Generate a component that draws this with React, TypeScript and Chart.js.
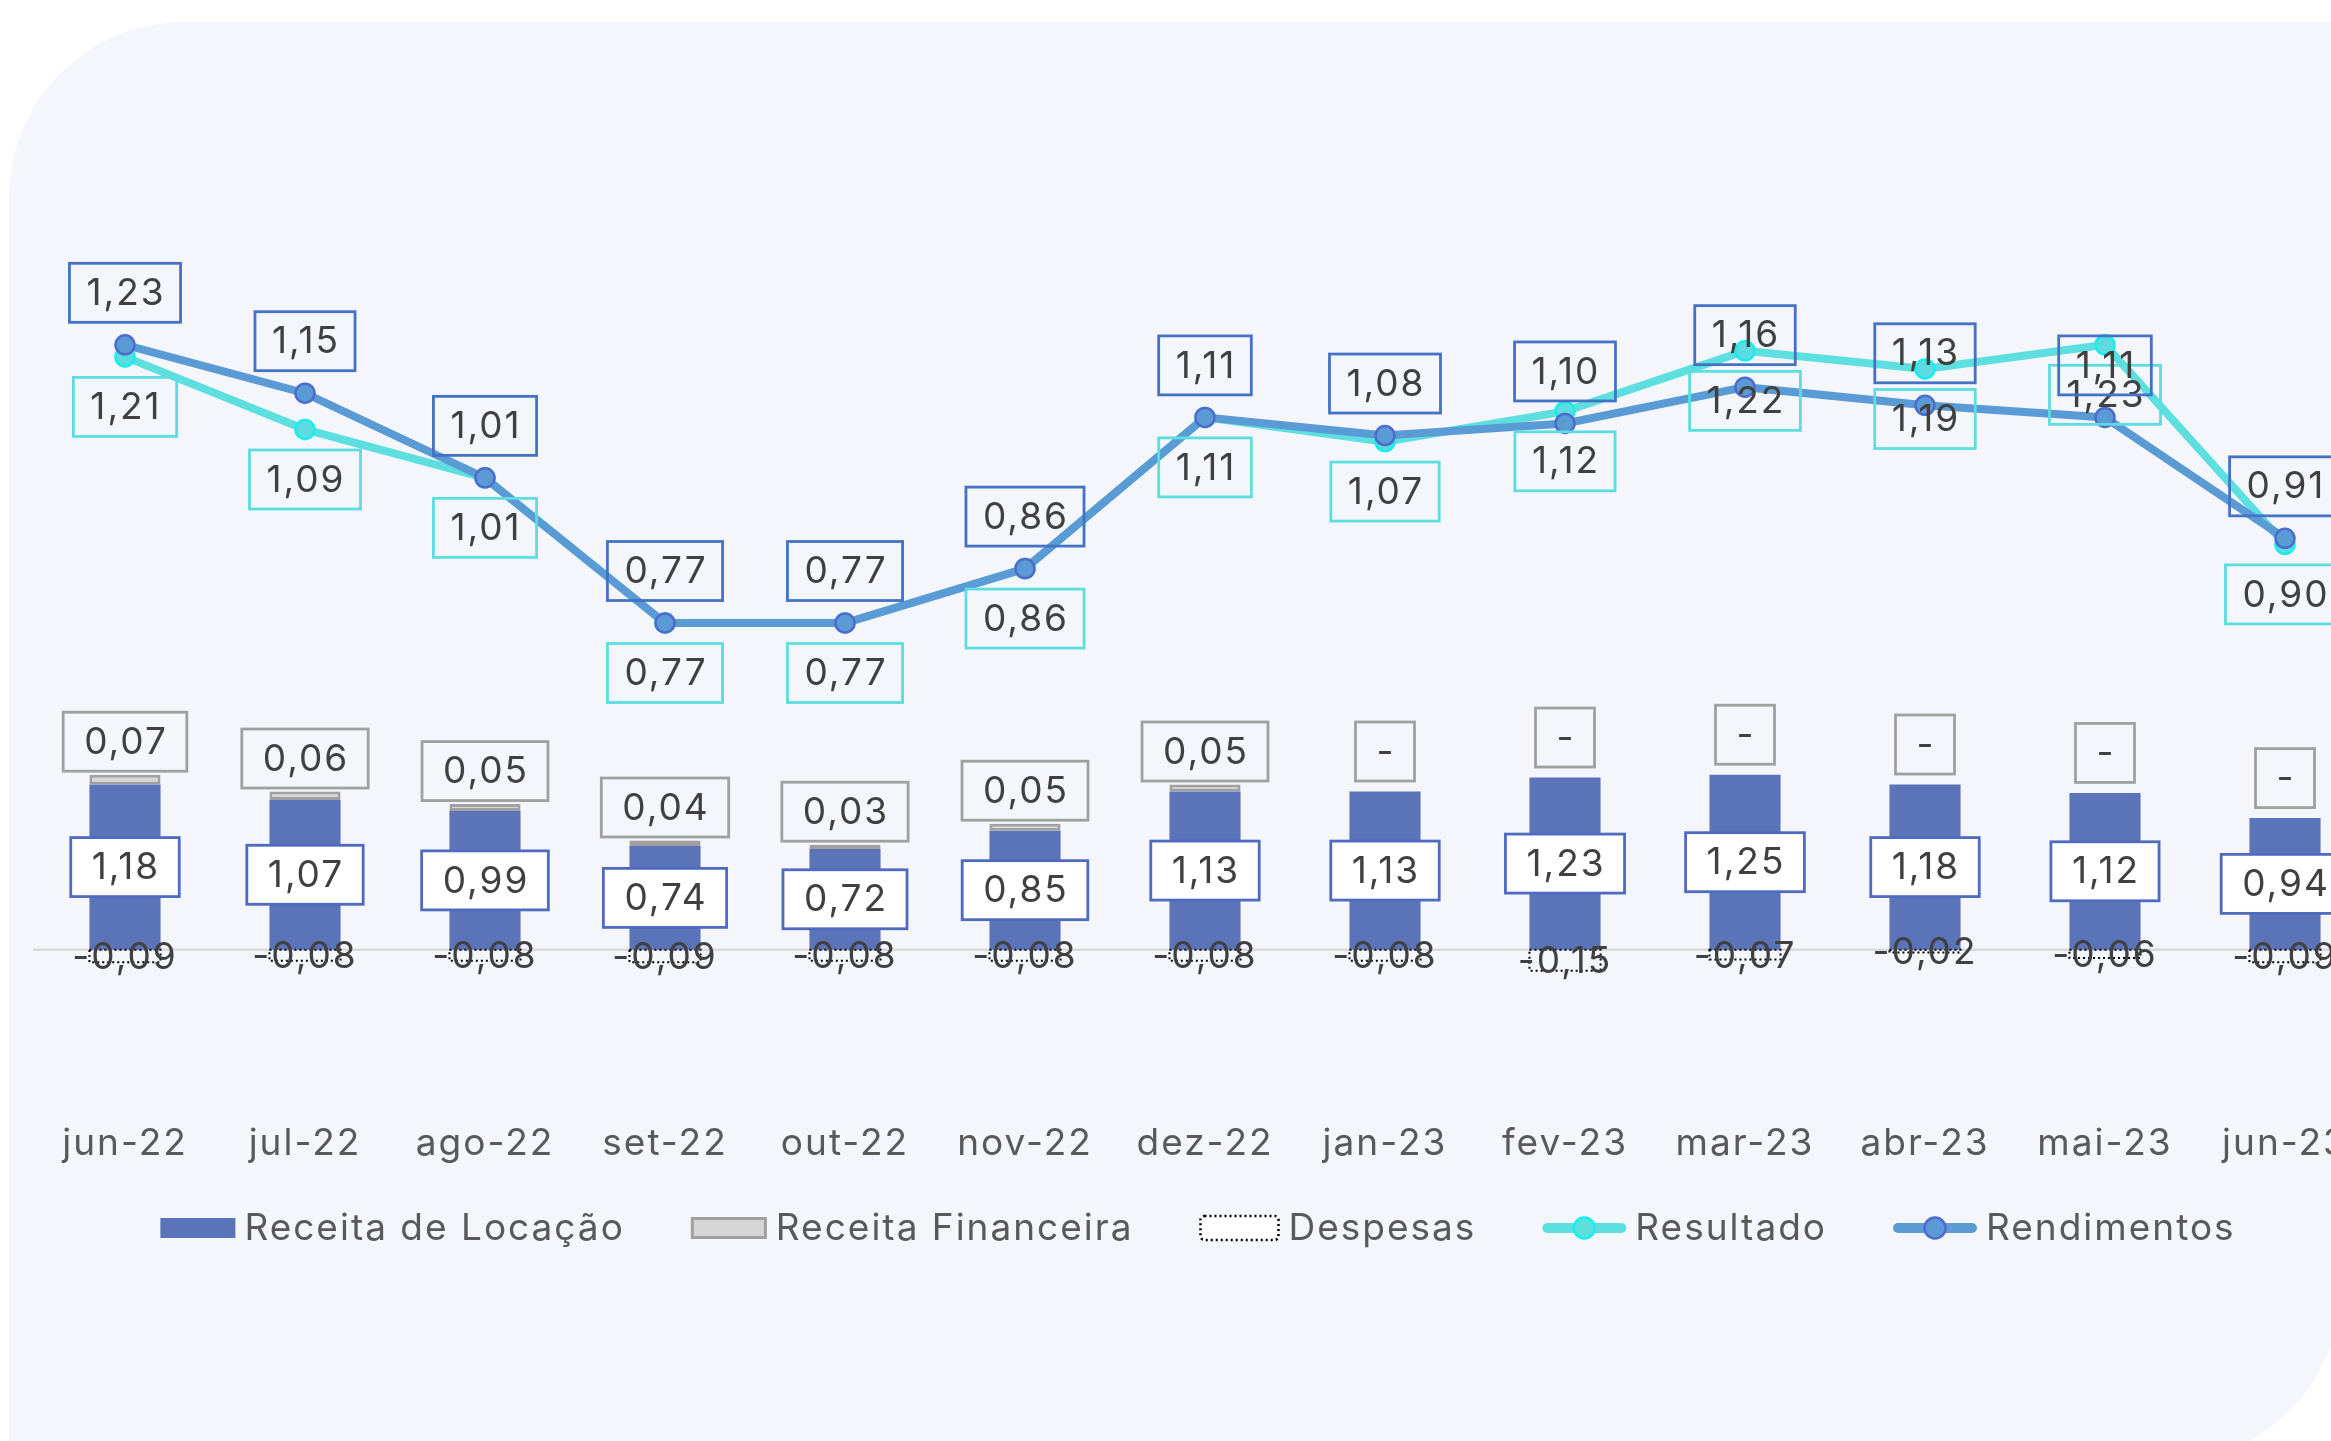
import React, { useEffect, useRef } from "react";
import { Chart, registerables } from "chart.js";

Chart.register(...registerables);

const categories = ["jun-22", "jul-22", "ago-22", "set-22", "out-22", "nov-22", "dez-22", "jan-23", "fev-23", "mar-23", "abr-23", "mai-23", "jun-23"];
const receitaLocacao = [1.18, 1.07, 0.99, 0.74, 0.72, 0.85, 1.13, 1.13, 1.23, 1.25, 1.18, 1.12, 0.94];
const receitaFinanceira = [0.07, 0.06, 0.05, 0.04, 0.03, 0.05, 0.05, 0, 0, 0, 0, 0, 0];
const despesas = [-0.09, -0.08, -0.08, -0.09, -0.08, -0.08, -0.08, -0.08, -0.15, -0.07, -0.02, -0.06, -0.09];
const resultado = [1.21, 1.09, 1.01, 0.77, 0.77, 0.86, 1.11, 1.07, 1.12, 1.22, 1.19, 1.23, 0.9];
const rendimentos = [1.23, 1.15, 1.01, 0.77, 0.77, 0.86, 1.11, 1.08, 1.1, 1.16, 1.13, 1.11, 0.91];
const seriesNames = ["Receita de Locação", "Receita Financeira", "Despesas", "Resultado", "Rendimentos"];

const FONT = 'Inter, "Noto Sans", sans-serif';
const FS = 37;
const LS = "2px";

const C_LOC = "#5b73b9";
const C_FIN_FILL = "#d6d6d6";
const C_FIN_BORDER = "#a0a0a0";
const C_RES = "#5ddfdf";
const C_RES_PT = "#16eeee";
const C_REN = "#5b9bd5";
const C_REN_PT = "#4d6ccc";

const fmt = (v: number) => (v === 0 ? "-" : v.toFixed(2).replace(".", ","));

function drawBox(ctx: CanvasRenderingContext2D, text: string, cx: number, cy: number, padX: number, h: number, stroke: string, fill?: string) {
  ctx.font = `${FS}px ${FONT}`;
  (ctx as any).letterSpacing = LS;
  const w = ctx.measureText(text).width + padX * 2;
  if (fill) {
    ctx.fillStyle = fill;
    ctx.fillRect(cx - w / 2, cy - h / 2, w, h);
  }
  ctx.lineWidth = 2.8;
  ctx.strokeStyle = stroke;
  ctx.strokeRect(cx - w / 2, cy - h / 2, w, h);
  ctx.fillStyle = "#404040";
  ctx.textAlign = "center";
  ctx.textBaseline = "middle";
  ctx.fillText(text, cx + 1, cy + 1);
}

const labelPlugin = {
  id: "customLabels",
  beforeDraw(chart: any) {
    (chart.ctx as any).letterSpacing = LS;
  },
  beforeDatasetsDraw(chart: any) {
    const ctx = chart.ctx as CanvasRenderingContext2D;
    const y0 = chart.scales.y.getPixelForValue(0);
    ctx.save();
    ctx.strokeStyle = "#d9d9d9";
    ctx.lineWidth = 2.5;
    ctx.beginPath();
    ctx.moveTo(chart.chartArea.left - 2, y0);
    ctx.lineTo(chart.chartArea.right, y0);
    ctx.stroke();
    ctx.restore();
  },
  afterDatasetsDraw(chart: any) {
    const ctx = chart.ctx as CanvasRenderingContext2D;
    ctx.save();
    const mDesp = chart.getDatasetMeta(2);
    mDesp.data.forEach((el: any) => {
      const w = el.width;
      ctx.setLineDash([2, 3]);
      ctx.lineWidth = 2;
      ctx.strokeStyle = "#000";
      ctx.strokeRect(el.x - w / 2, Math.min(el.y, el.base), w, Math.abs(el.y - el.base));
    });
    ctx.setLineDash([]);
    chart.getDatasetMeta(0).data.forEach((el: any, i: number) => {
      drawBox(ctx, fmt(receitaLocacao[i]), el.x, (el.y + el.base) / 2, 20, 59, "#4f6bc0", "#ffffff");
    });
    chart.getDatasetMeta(1).data.forEach((el: any, i: number) => {
      const v = receitaFinanceira[i];
      const off = v === 0 ? 10 : 3;
      drawBox(ctx, fmt(v), el.x, el.y - off - 30, 20, 59, C_FIN_BORDER);
    });
    mDesp.data.forEach((el: any, i: number) => {
      ctx.font = `${FS}px ${FONT}`;
      (ctx as any).letterSpacing = LS;
      ctx.fillStyle = "#404040";
      ctx.textAlign = "center";
      ctx.textBaseline = "middle";
      ctx.fillText(fmt(despesas[i]), el.x, (el.y + el.base) / 2 + 2);
    });
    chart.getDatasetMeta(3).data.forEach((el: any, i: number) => {
      drawBox(ctx, fmt(resultado[i]), el.x, el.y + 50, 16, 59, "#5cdde0");
    });
    chart.getDatasetMeta(4).data.forEach((el: any, i: number) => {
      drawBox(ctx, fmt(rendimentos[i]), el.x, el.y - 52, 16, 59, "#4472c4");
    });
    ctx.restore();
  },
  afterDraw(chart: any) {
    const ctx = chart.ctx as CanvasRenderingContext2D;
    ctx.save();
    ctx.font = `${FS}px ${FONT}`;
    (ctx as any).letterSpacing = LS;
    const symW = [75, 76, 80, 84, 84];
    const gapText = 9;
    const gapItem = 66;
    const widths = seriesNames.map((n, i) => symW[i] + gapText + ctx.measureText(n).width);
    const total = widths.reduce((a, b) => a + b, 0) + gapItem * (seriesNames.length - 1);
    let x = 1198 - total / 2;
    const cy = 1228;
    seriesNames.forEach((name, i) => {
      const sw = symW[i];
      if (i === 0) {
        ctx.fillStyle = C_LOC;
        ctx.fillRect(x, cy - 10, sw, 20);
      } else if (i === 1) {
        ctx.fillStyle = C_FIN_FILL;
        ctx.fillRect(x, cy - 11, sw, 22);
        ctx.strokeStyle = C_FIN_BORDER;
        ctx.lineWidth = 3;
        ctx.strokeRect(x + 1.5, cy - 9.5, sw - 3, 19);
      } else if (i === 2) {
        ctx.fillStyle = "#ffffff";
        ctx.beginPath();
        (ctx as any).roundRect(x + 1, cy - 12, sw - 2, 24, 4);
        ctx.fill();
        ctx.setLineDash([2, 3]);
        ctx.lineWidth = 2.5;
        ctx.strokeStyle = "#000";
        ctx.stroke();
        ctx.setLineDash([]);
      } else {
        const lc = i === 3 ? C_RES : C_REN;
        const pb = i === 3 ? C_RES_PT : C_REN_PT;
        ctx.strokeStyle = lc;
        ctx.lineWidth = 10;
        ctx.lineCap = "round";
        ctx.beginPath();
        ctx.moveTo(x + 5, cy);
        ctx.lineTo(x + sw - 5, cy);
        ctx.stroke();
        ctx.beginPath();
        ctx.arc(x + sw / 2, cy, 10.5, 0, Math.PI * 2);
        ctx.fillStyle = lc;
        ctx.fill();
        ctx.lineWidth = 2.5;
        ctx.strokeStyle = pb;
        ctx.stroke();
      }
      ctx.fillStyle = "#595959";
      ctx.textAlign = "left";
      ctx.textBaseline = "middle";
      ctx.fillText(name, x + sw + gapText, cy + 1);
      x += widths[i] + gapItem;
    });
    ctx.restore();
  },
};

export default function App() {
  const ref = useRef<HTMLCanvasElement | null>(null);
  useEffect(() => {
    if (!ref.current) return;
    const chart = new Chart(ref.current, {
      type: "bar",
      data: {
        labels: categories,
        datasets: [
          {
            type: "bar",
            label: seriesNames[0],
            data: receitaLocacao,
            backgroundColor: C_LOC,
            borderWidth: 0,
            stack: "s",
            yAxisID: "y",
            order: 2,
          },
          {
            type: "bar",
            label: seriesNames[1],
            data: receitaFinanceira,
            backgroundColor: C_FIN_FILL,
            borderColor: C_FIN_BORDER,
            borderWidth: (c: any) => (receitaFinanceira[c.dataIndex] === 0 ? 0 : 3),
            borderSkipped: false,
            stack: "s",
            yAxisID: "y",
            order: 2,
          },
          {
            type: "bar",
            label: seriesNames[2],
            data: despesas,
            backgroundColor: "rgba(0,0,0,0)",
            borderWidth: 0,
            stack: "s",
            yAxisID: "y",
            order: 2,
          },
          {
            type: "line",
            label: seriesNames[3],
            data: resultado,
            borderColor: C_RES,
            borderWidth: 8,
            pointRadius: 9.5,
            pointBackgroundColor: "#5cdbe0",
            pointBorderColor: C_RES_PT,
            pointBorderWidth: 2.5,
            tension: 0,
            yAxisID: "y1",
            order: 1,
          },
          {
            type: "line",
            label: seriesNames[4],
            data: rendimentos,
            borderColor: C_REN,
            borderWidth: 8,
            pointRadius: 9.5,
            pointBackgroundColor: C_REN,
            pointBorderColor: C_REN_PT,
            pointBorderWidth: 2.5,
            tension: 0,
            yAxisID: "y1",
            order: 0,
          },
        ] as any,
      },
      options: {
        responsive: false,
        animation: false,
        events: [],
        layout: { padding: { left: 35, right: 25, top: 40, bottom: 253 } },
        datasets: { bar: { categoryPercentage: 1, barPercentage: 0.395 } } as any,
        plugins: { legend: { display: false }, tooltip: { enabled: false } },
        scales: {
          x: {
            stacked: true,
            grid: { display: false, drawTicks: false },
            border: { display: false },
            ticks: { color: "#595959", font: { family: FONT, size: FS }, padding: 22, maxRotation: 0, autoSkip: false },
          },
          y: { display: false, stacked: true, min: -1.0714, max: 6.5 },
          y1: { display: false, min: -0.018, max: 1.734 },
        },
      },
      plugins: [labelPlugin],
    });
    return () => chart.destroy();
  }, []);

  return (
    <div style={{ position: "fixed", left: 0, top: 0, width: 2331, height: 1441, overflow: "hidden", background: "#ffffff" }}>
      <div
        style={{
          position: "absolute",
          left: 9,
          top: 22,
          width: 2332,
          height: 1440,
          background: "#f5f6fb",
          borderRadius: "175px 0 175px 0",
        }}
      />
      <canvas ref={ref} width={2400} height={1441} style={{ position: "absolute", left: 0, top: 0, display: "block" }} />
    </div>
  );
}
